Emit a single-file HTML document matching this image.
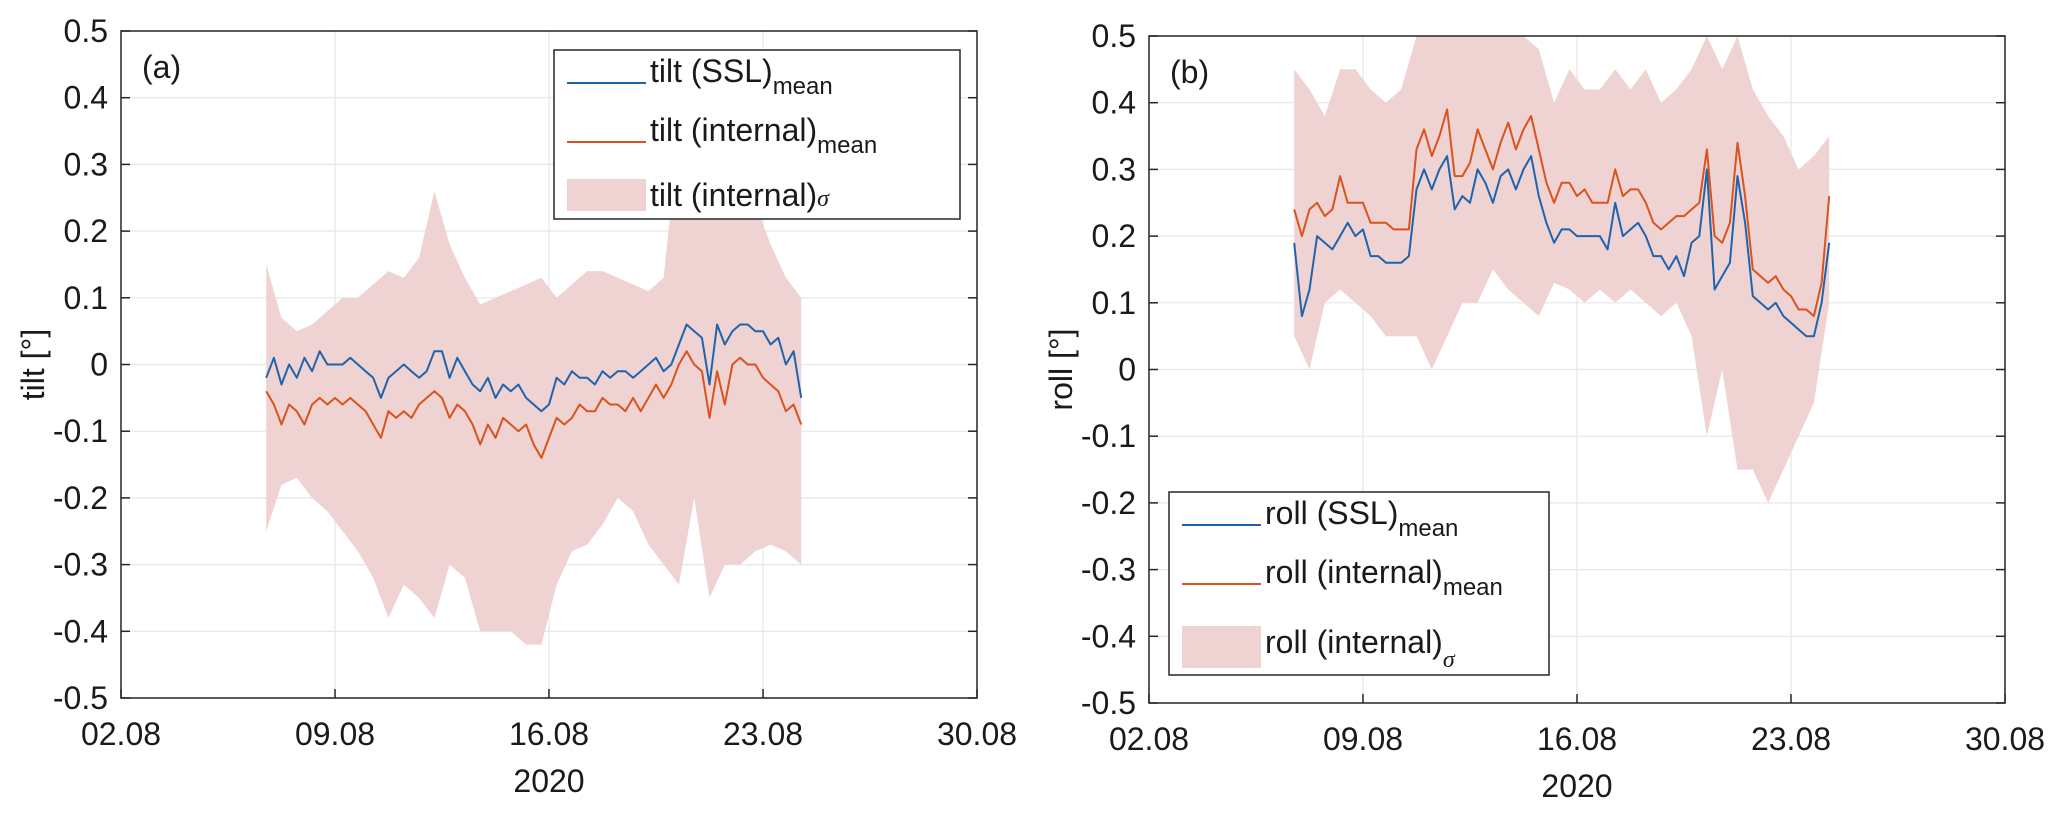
<!DOCTYPE html>
<html><head><meta charset="utf-8"><style>
html,body{margin:0;padding:0;background:#fff}
svg{display:block;font-family:"Liberation Sans",Arial,sans-serif}
</style></head><body>
<svg id="fig" width="2067" height="814" viewBox="0 0 2067 814"></svg>
<script>
const lineTimes = [6.75,7,7.25,7.5,7.75,8,8.25,8.5,8.75,9,9.25,9.5,9.75,10,10.25,10.5,10.75,11,11.25,11.5,11.75,12,12.25,12.5,12.75,13,13.25,13.5,13.75,14,14.25,14.5,14.75,15,15.25,15.5,15.75,16,16.25,16.5,16.75,17,17.25,17.5,17.75,18,18.25,18.5,18.75,19,19.25,19.5,19.75,20,20.25,20.5,20.75,21,21.25,21.5,21.75,22,22.25,22.5,22.75,23,23.25,23.5,23.75,24,24.25];
const bandTimes = [6.75,7.25,7.75,8.25,8.75,9.25,9.75,10.25,10.75,11.25,11.75,12.25,12.75,13.25,13.75,14.25,14.75,15.25,15.75,16.25,16.75,17.25,17.75,18.25,18.75,19.25,19.75,20.25,20.75,21.25,21.75,22.25,22.75,23.25,23.75,24.25];
const xTickDays = [2,9,16,23,30];
const xTickLabels = ["02.08","09.08","16.08","23.08","30.08"];
const yTicks = [0.5,0.4,0.3,0.2,0.1,0,-0.1,-0.2,-0.3,-0.4,-0.5];
const yTickLabels = ["0.5","0.4","0.3","0.2","0.1","0","-0.1","-0.2","-0.3","-0.4","-0.5"];

const tiltSSL = [-0.02,0.01,-0.03,0.00,-0.02,0.01,-0.01,0.02,0.00,0.00,0.00,0.01,0.00,-0.01,-0.02,-0.05,-0.02,-0.01,0.00,-0.01,-0.02,-0.01,0.02,0.02,-0.02,0.01,-0.01,-0.03,-0.04,-0.02,-0.05,-0.03,-0.04,-0.03,-0.05,-0.06,-0.07,-0.06,-0.02,-0.03,-0.01,-0.02,-0.02,-0.03,-0.01,-0.02,-0.01,-0.01,-0.02,-0.01,0.00,0.01,-0.01,0.00,0.03,0.06,0.05,0.04,-0.03,0.06,0.03,0.05,0.06,0.06,0.05,0.05,0.03,0.04,0.00,0.02,-0.05];
const tiltInt = [-0.04,-0.06,-0.09,-0.06,-0.07,-0.09,-0.06,-0.05,-0.06,-0.05,-0.06,-0.05,-0.06,-0.07,-0.09,-0.11,-0.07,-0.08,-0.07,-0.08,-0.06,-0.05,-0.04,-0.05,-0.08,-0.06,-0.07,-0.09,-0.12,-0.09,-0.11,-0.08,-0.09,-0.10,-0.09,-0.12,-0.14,-0.11,-0.08,-0.09,-0.08,-0.06,-0.07,-0.07,-0.05,-0.06,-0.06,-0.07,-0.05,-0.07,-0.05,-0.03,-0.05,-0.03,0.00,0.02,0.00,-0.01,-0.08,-0.01,-0.06,0.00,0.01,0.00,0.00,-0.02,-0.03,-0.04,-0.07,-0.06,-0.09];
const tiltUpper = [0.15,0.07,0.05,0.06,0.08,0.10,0.10,0.12,0.14,0.13,0.16,0.26,0.18,0.13,0.09,0.10,0.11,0.12,0.13,0.10,0.12,0.14,0.14,0.13,0.12,0.11,0.13,0.35,0.25,0.30,0.28,0.30,0.24,0.18,0.13,0.10];
const tiltLower = [-0.25,-0.18,-0.17,-0.20,-0.22,-0.25,-0.28,-0.32,-0.38,-0.33,-0.35,-0.38,-0.30,-0.32,-0.40,-0.40,-0.40,-0.42,-0.42,-0.33,-0.28,-0.27,-0.24,-0.20,-0.22,-0.27,-0.30,-0.33,-0.20,-0.35,-0.30,-0.30,-0.28,-0.27,-0.28,-0.30];

const rollSSL = [0.19,0.08,0.12,0.20,0.19,0.18,0.20,0.22,0.20,0.21,0.17,0.17,0.16,0.16,0.16,0.17,0.27,0.30,0.27,0.30,0.32,0.24,0.26,0.25,0.30,0.28,0.25,0.29,0.30,0.27,0.30,0.32,0.26,0.22,0.19,0.21,0.21,0.20,0.20,0.20,0.20,0.18,0.25,0.20,0.21,0.22,0.20,0.17,0.17,0.15,0.17,0.14,0.19,0.20,0.30,0.12,0.14,0.16,0.29,0.22,0.11,0.10,0.09,0.10,0.08,0.07,0.06,0.05,0.05,0.10,0.19];
const rollInt = [0.24,0.20,0.24,0.25,0.23,0.24,0.29,0.25,0.25,0.25,0.22,0.22,0.22,0.21,0.21,0.21,0.33,0.36,0.32,0.35,0.39,0.29,0.29,0.31,0.36,0.33,0.30,0.34,0.37,0.33,0.36,0.38,0.33,0.28,0.25,0.28,0.28,0.26,0.27,0.25,0.25,0.25,0.30,0.26,0.27,0.27,0.25,0.22,0.21,0.22,0.23,0.23,0.24,0.25,0.33,0.20,0.19,0.22,0.34,0.26,0.15,0.14,0.13,0.14,0.12,0.11,0.09,0.09,0.08,0.13,0.26];
const rollUpper = [0.45,0.42,0.38,0.45,0.45,0.42,0.40,0.42,0.50,0.50,0.50,0.50,0.50,0.50,0.50,0.50,0.48,0.40,0.45,0.42,0.42,0.45,0.42,0.45,0.40,0.42,0.45,0.50,0.45,0.50,0.42,0.38,0.35,0.30,0.32,0.35];
const rollLower = [0.05,0.00,0.10,0.12,0.10,0.08,0.05,0.05,0.05,0.00,0.05,0.10,0.10,0.15,0.12,0.10,0.08,0.13,0.12,0.10,0.12,0.10,0.12,0.10,0.08,0.10,0.05,-0.10,0.00,-0.15,-0.15,-0.20,-0.15,-0.10,-0.05,0.10];

const NS="http://www.w3.org/2000/svg";
const svg=document.getElementById('fig');
function mk(tag,attrs,parent){const e=document.createElementNS(NS,tag);for(const k in attrs)e.setAttribute(k,attrs[k]);(parent||svg).appendChild(e);return e;}
const FS=32;
function panel(cfg){
  const {L,T,R,B,id}=cfg;
  const g=mk('g',{});
  
  
  const xs=d=>L+(d-2)/28*(R-L);
  const ys=v=>T+(0.5-v)/1.0*(B-T);
  const cp=mk('clipPath',{id:'clip-'+id},g);
  mk('rect',{x:L,y:T,width:R-L,height:B-T},cp);
  xTickDays.forEach(d=>{const l=mk('line',{x1:xs(d),x2:xs(d),y1:T,y2:B,stroke:'#e6e6e6','stroke-width':1.2},g);
    });
  yTicks.forEach(v=>{const l=mk('line',{x1:L,x2:R,y1:ys(v),y2:ys(v),stroke:'#e6e6e6','stroke-width':1.2},g);
    });
  let d='';
  bandTimes.forEach((t,i)=>{d+=(i?'L':'M')+xs(t).toFixed(1)+','+ys(cfg.upper[i]).toFixed(1);});
  for(let i=bandTimes.length-1;i>=0;i--)d+='L'+xs(bandTimes[i]).toFixed(1)+','+ys(cfg.lower[i]).toFixed(1);
  const band=mk('path',{d:d+'Z',fill:'#efd3d3','clip-path':'url(#clip-'+id+')'},g);
  
  
  function line(vals,color,name){
    let p='';vals.forEach((v,i)=>{p+=(i?'L':'M')+xs(lineTimes[i]).toFixed(1)+','+ys(v).toFixed(1);});
    const e=mk('path',{d:p,fill:'none',stroke:color,'stroke-width':2,'stroke-linejoin':'round','clip-path':'url(#clip-'+id+')'},g);
    
    
  }
  line(cfg.int,'#d9531e',id+'-internal-mean-line');
  line(cfg.ssl,'#1f63ad',id+'-ssl-mean-line');
  const box=mk('rect',{x:L,y:T,width:R-L,height:B-T,fill:'none',stroke:'#262626','stroke-width':1.5},g);
  
  
  yTicks.forEach((v,i)=>{
    mk('line',{x1:L,x2:L+9,y1:ys(v),y2:ys(v),stroke:'#262626','stroke-width':1.5},g);
    mk('line',{x1:R,x2:R-9,y1:ys(v),y2:ys(v),stroke:'#262626','stroke-width':1.5},g);
    const t=mk('text',{x:L-13,y:ys(v)+11,'text-anchor':'end','font-size':FS,fill:'#1a1a1a'},g);
    t.textContent=yTickLabels[i];
    
    
  });
  xTickDays.forEach((dd,i)=>{
    mk('line',{x1:xs(dd),x2:xs(dd),y1:B,y2:B-9,stroke:'#262626','stroke-width':1.5},g);
    const t=mk('text',{x:xs(dd),y:B+47,'text-anchor':'middle','font-size':FS,fill:'#1a1a1a'},g);
    t.textContent=xTickLabels[i];
    
    
  });
  const yr=mk('text',{x:(L+R)/2,y:B+94,'text-anchor':'middle','font-size':FS,fill:'#1a1a1a'},g);
  yr.textContent='2020';
  
  
  const yl=mk('text',{x:0,y:0,'text-anchor':'middle','font-size':FS,fill:'#1a1a1a',transform:`translate(${cfg.ytx},${(T+B)/2}) rotate(-90)`},g);
  yl.textContent=cfg.ylabel;
  
  
  const pl=mk('text',{x:L+21,y:T+47,'font-size':FS,fill:'#1a1a1a'},g);
  pl.textContent=cfg.tag;
  
  
  const lg=cfg.leg;
  const lgG=mk('g',{},g);
  
  
  mk('rect',{x:lg.x,y:lg.y,width:lg.w,height:lg.h,fill:'#fff',stroke:'#262626','stroke-width':1.5},lgG);
  const rows=[{c:'#1f63ad',n:cfg.name+' (SSL)',s:'mean',type:'line',dy:lg.r1},
              {c:'#d9531e',n:cfg.name+' (internal)',s:'mean',type:'line',dy:lg.r2},
              {c:'#efd3d3',n:cfg.name+' (internal)',s:'σ',type:'patch',dy:lg.r3}];
  rows.forEach((r,i)=>{
    const eg=mk('g',{},lgG);
    
    
    if(r.type==='line')mk('line',{x1:lg.x+13,x2:lg.x+92,y1:lg.y+r.dy,y2:lg.y+r.dy,stroke:r.c,'stroke-width':2},eg);
    else mk('rect',{x:lg.x+13,y:lg.y+r.dy-16,width:79,height:32+(lg.pext||0),fill:r.c},eg);
    const t=mk('text',{x:lg.x+96,y:lg.y+r.dy+(r.type==='line'?-1:11),'font-size':FS,fill:'#1a1a1a'},eg);
    t.textContent=r.n;
    const sub=mk('tspan',{'font-size':24,dy:(r.s==='σ'?(lg.sigDy||0):12),'font-style':r.s==='σ'?'italic':'normal','font-family':r.s==='σ'?'"Liberation Serif",serif':'inherit'},t);
    sub.textContent=r.s;
  });
}

panel({id:'tilt',L:121,T:31,R:977,B:698,ytx:44,ylabel:'tilt [°]',tag:'(a)',name:'tilt',ssl:tiltSSL,int:tiltInt,upper:tiltUpper,lower:tiltLower,
  leg:{x:554,y:50,w:406,h:169,r1:33,r2:92,r3:145,sigDy:0}});
panel({id:'roll',L:1149,T:36,R:2005,B:703,ytx:1072,ylabel:'roll [°]',tag:'(b)',name:'roll',ssl:rollSSL,int:rollInt,upper:rollUpper,lower:rollLower,
  leg:{x:1169,y:492,w:380,h:183,r1:33,r2:92,r3:150,sigDy:14,pext:10}});
</script>
</body></html>
